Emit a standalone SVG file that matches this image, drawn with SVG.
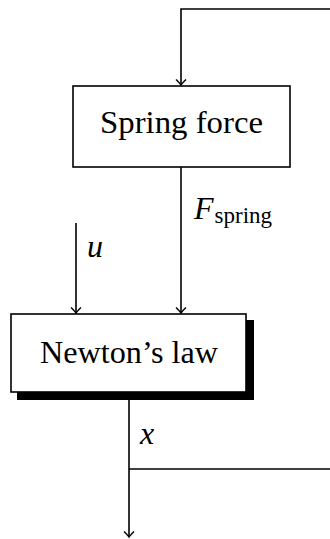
<svg xmlns="http://www.w3.org/2000/svg" width="330" height="539" viewBox="0 0 330 539">
<style>
.box{fill:#fff;stroke:#000;stroke-width:1.6}
.wire{fill:none;stroke:#000;stroke-width:1.6}
.lbl{font-family:"Liberation Serif","DejaVu Serif",serif;font-size:31px;fill:#000}
.math{font-family:"Liberation Serif","DejaVu Serif",serif;font-style:italic;font-size:32px;fill:#000}
.sub{font-family:"Liberation Serif","DejaVu Serif",serif;font-size:23px;fill:#000}
</style>
<defs>
<marker id="arr" markerUnits="userSpaceOnUse" markerWidth="14" markerHeight="14" viewBox="-7 -7 14 14" refX="0" refY="0" orient="auto">
<path d="M -5.5 -5 Q -1.5 -1 0 0 Q -1.5 1 -5.5 5" fill="none" stroke="#000" stroke-width="1.4"/>
</marker>
</defs>
<g id="spring-force">
<rect class="box" x="73" y="86" width="217" height="81"/>
<text class="lbl" x="181.5" y="133" text-anchor="middle" textLength="163" lengthAdjust="spacingAndGlyphs">Spring force</text>
</g>
<g id="newtons-law">
<rect x="17" y="320" width="237" height="80" fill="#000"/>
<rect class="box" x="11" y="314" width="235" height="78"/>
<text class="lbl" x="129" y="363" text-anchor="middle" textLength="178" lengthAdjust="spacingAndGlyphs">Newton’s law</text>
</g>
<g id="connectors">
<path class="wire" d="M 330 9 L 181 9 L 181 85" marker-end="url(#arr)"/>
<path class="wire" d="M 181 167 L 181 313" marker-end="url(#arr)"/>
<path class="wire" d="M 76 223 L 76 313" marker-end="url(#arr)"/>
<path class="wire" d="M 129 400 L 129 537" marker-end="url(#arr)"/>
<path class="wire" d="M 129 469 L 330 469"/>
</g>
<g id="labels">
<text x="194" y="219"><tspan class="math">F</tspan><tspan class="sub" dx="1" dy="4">spring</tspan></text>
<text class="math" x="87" y="257">u</text>
<text class="math" x="140" y="444">x</text>
</g>
</svg>
